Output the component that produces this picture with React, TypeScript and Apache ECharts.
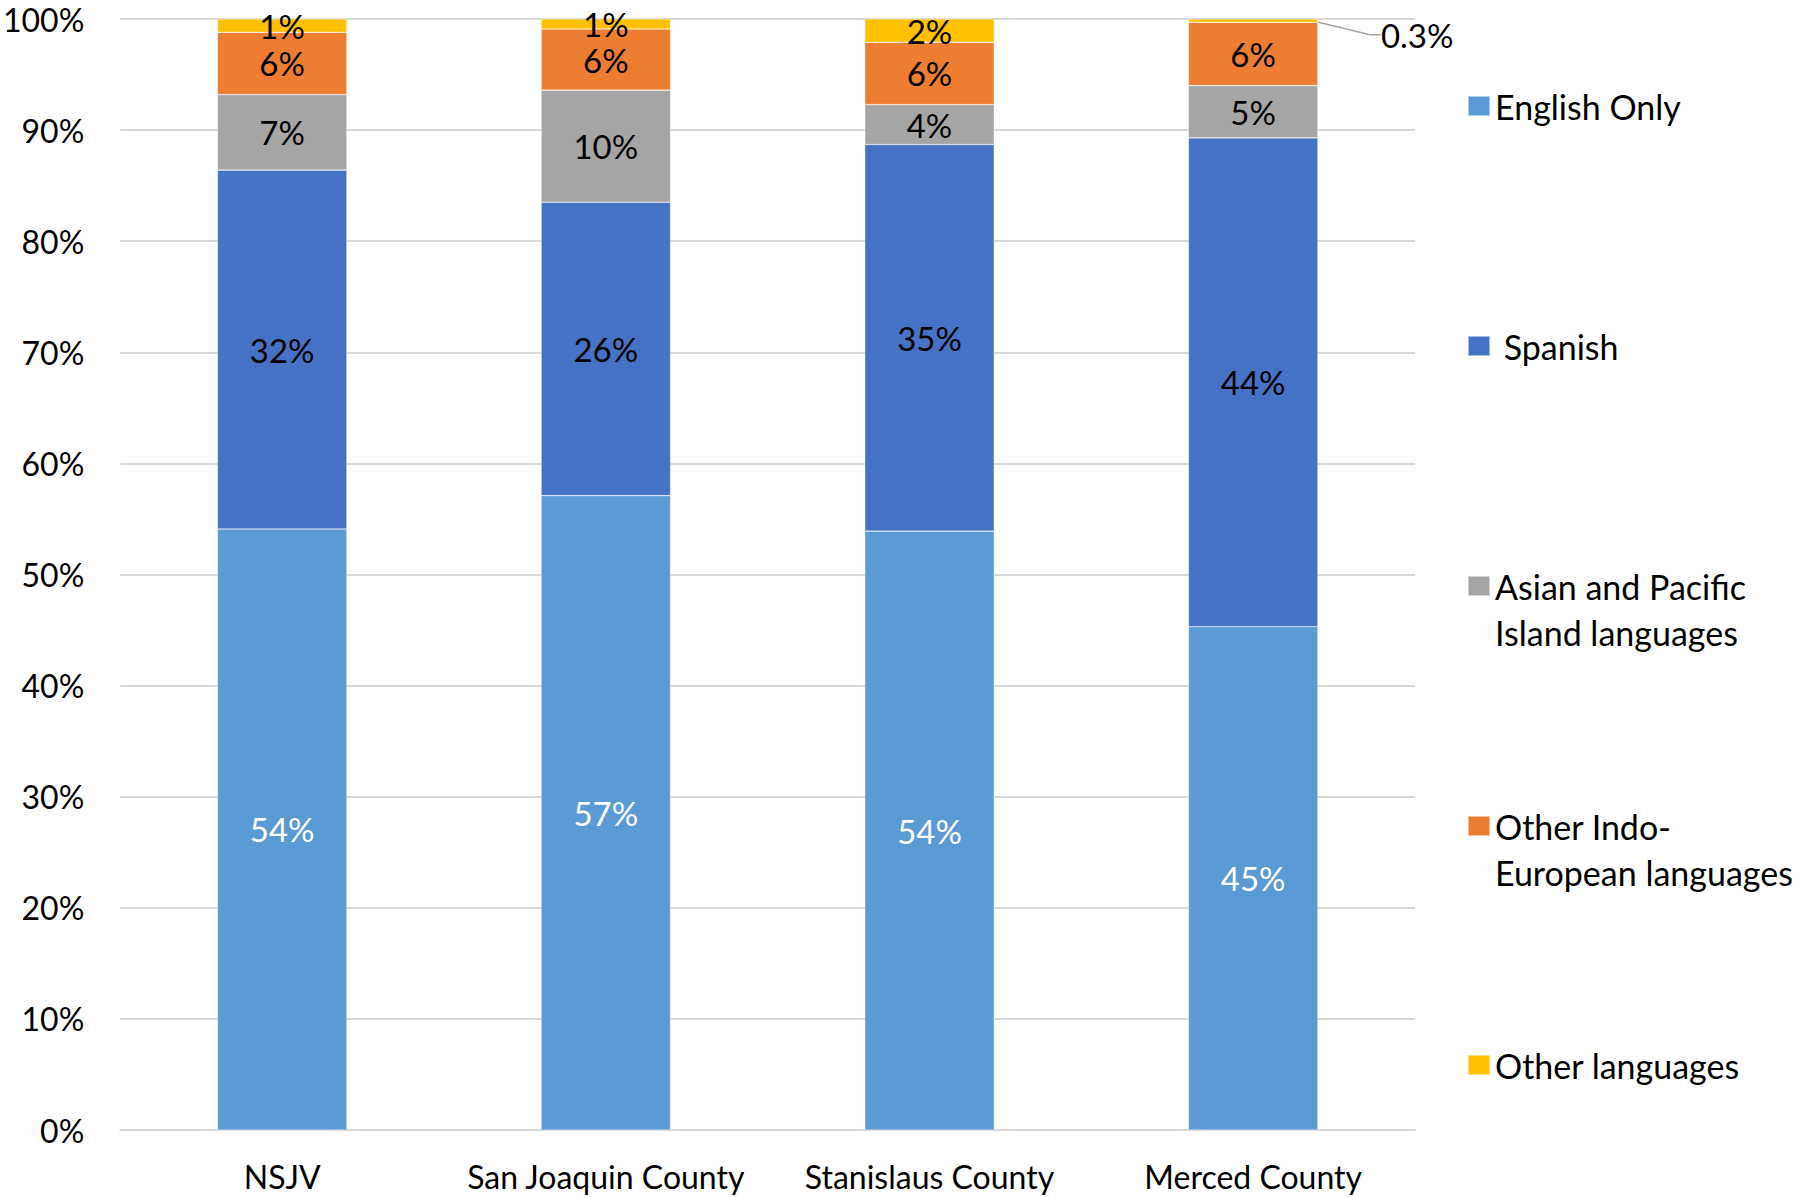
import React, { useEffect, useRef } from "react";
import * as echarts from "echarts";

const categories = ["NSJV", "San Joaquin County", "Stanislaus County", "Merced County"];
const seriesNames = [
  "English Only",
  "Spanish",
  "Asian and Pacific Island languages",
  "Other Indo-European languages",
  "Other languages",
];
const legendLabels = [
  "English Only",
  " Spanish",
  "Asian and Pacific\nIsland languages",
  "Other Indo-\nEuropean languages",
  "Other languages",
];
const englishOnly = [54.1, 57.1, 53.9, 45.3];
const spanish = [32.3, 26.4, 34.8, 44.0];
const asianPacific = [6.8, 10.1, 3.6, 4.7];
const otherIndoEuropean = [5.6, 5.5, 5.6, 5.7];
const otherLanguages = [1.2, 0.9, 2.1, 0.3];
const colors = ["#5B9BD5", "#4472C4", "#A5A5A5", "#ED7D31", "#FFC000"];
const labelColors = ["#FFFFFF", "#000000", "#000000", "#000000", "#000000"];

const FONT = "Lato";

export default function App() {
  const ref = useRef<HTMLDivElement>(null);
  useEffect(() => {
    if (!ref.current) return;
    const chart = echarts.init(ref.current, null, { renderer: "svg" });
    const all = [englishOnly, spanish, asianPacific, otherIndoEuropean, otherLanguages];
    const fmt = (v: number) => (v < 0.5 ? v.toFixed(1) : String(Math.round(v))) + "%";
    const series = all.map((vals, si) => ({
      type: "bar",
      name: seriesNames[si],
      stack: "total",
      barWidth: "40%",
      itemStyle: { color: colors[si], borderColor: "rgba(255,255,255,0.5)", borderWidth: 0.6 },
      label: {
        show: true,
        position: "inside",
        color: labelColors[si],
        fontFamily: FONT,
        fontSize: 33,
        formatter: (p: any) => fmt(p.value),
      },
      labelLine: { show: true, length2: 11, lineStyle: { color: "#A5A5A5", width: 1.5 } },
      labelLayout: (p: any) =>
        vals[p.dataIndex] < 0.5 ? { dx: 58, dy: 14 } : {},
      data: vals.map((v) =>
        v < 0.5
          ? { value: v, label: { position: "right", distance: 5, color: "#000" } }
          : v
      ),
    }));
    const markerCenters = [106, 346, 586, 826, 1065];
    const legends = seriesNames.map((n, i) => {
      const twoLine = legendLabels[i].includes("\n");
      return {
        data: [n],
        left: 1467,
        top: markerCenters[i] - (twoLine ? 69 : 23),
        orient: "vertical",
        padding: 0,
        icon: "rect",
        itemWidth: 22,
        itemHeight: 20,
        selectedMode: false,
        formatter: () => (twoLine ? " \n" : "") + legendLabels[i],
        textStyle: {
          fontFamily: FONT,
          fontSize: 34,
          color: "#000",
          lineHeight: 46,
        },
      };
    });
    chart.setOption({
      animation: false,
      backgroundColor: "#fff",
      legend: legends,
      grid: { left: 117, right: 386, top: 19, bottom: 67, containLabel: false },
      xAxis: {
        type: "category",
        data: categories,
        axisTick: { show: false },
        axisLine: { lineStyle: { color: "#D9D9D9", width: 2 } },
        axisLabel: { color: "#000", fontFamily: FONT, fontSize: 32, margin: 30, interval: 0 },
      },
      yAxis: {
        type: "value",
        min: 0,
        max: 100,
        interval: 10,
        axisLine: { show: false },
        axisTick: { show: false },
        splitLine: { lineStyle: { color: "#D9D9D9", width: 2 } },
        axisLabel: {
          color: "#000",
          fontFamily: FONT,
          fontSize: 32,
          margin: 36,
          formatter: "{value}%",
        },
      },
      series,
    });
    return () => chart.dispose();
  }, []);
  return (
    <div
      ref={ref}
      style={{ position: "fixed", left: 0, top: 0, width: 1801, height: 1197 }}
    />
  );
}
